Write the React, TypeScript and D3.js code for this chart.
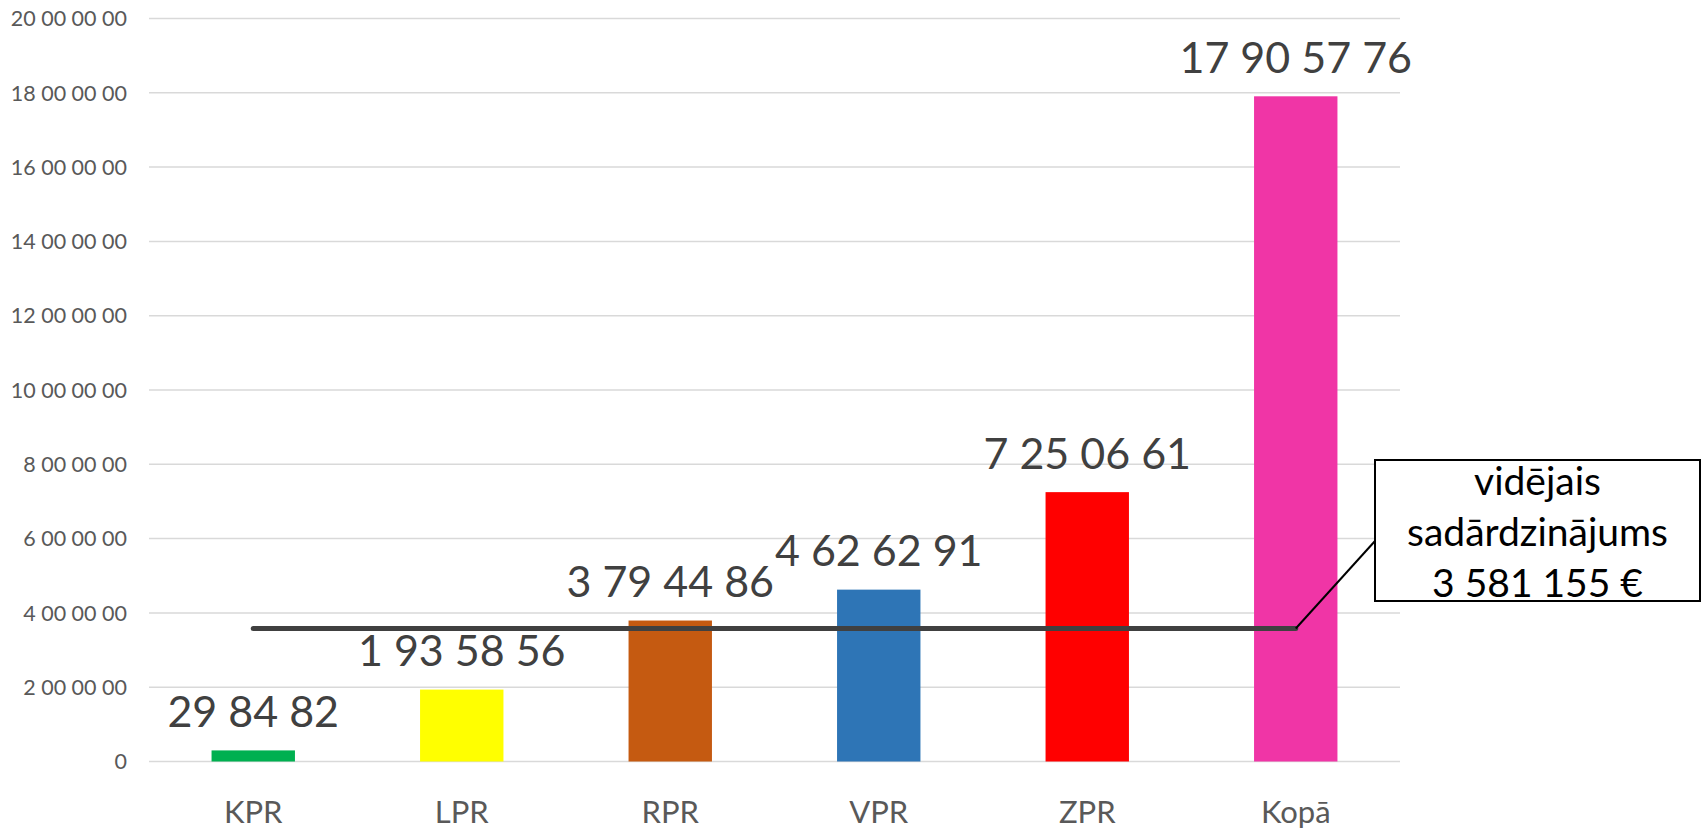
import * as d3 from 'd3';
import React, { useEffect, useRef } from 'react';

const categories = ['KPR', 'LPR', 'RPR', 'VPR', 'ZPR', 'Kopā'];
const values = [298482, 1935856, 3794486, 4626291, 7250661, 17905776];
const barColors = ['#00B050', '#FFFF00', '#C55A11', '#2E75B6', '#FF0000', '#F035A6'];
const yTicks = [0, 2000000, 4000000, 6000000, 8000000, 10000000, 12000000, 14000000, 16000000, 18000000, 20000000];
const averageValue = 3581155;
const calloutLines = ['vidējais', 'sadārdzinājums'];

// excel-ish "# ## ## ##" format: pairs of digits from the right
const pairFormat = (v: number) => {
	const s = String(Math.round(v));
	const parts: string[] = [];
	for (let i = s.length; i > 0; i -= 2) parts.unshift(s.slice(Math.max(0, i - 2), i));
	return parts.join(' ');
};
const thousandFormat = (v: number) => d3.format(',')(v).replace(/,/g, ' ');

const App = () => {
	const ref = useRef<HTMLDivElement>(null);
	const width = 1706;
	const height = 828;
	const margin = { top: 18.5, right: 306, bottom: 66.5, left: 149 };
	const font = 'Lato, "Open Sans", sans-serif';

	useEffect(() => {
		const container = ref.current;
		if (!container) return;
		container.innerHTML = '';

		const x = d3
			.scaleBand<string>()
			.domain(categories)
			.range([margin.left, width - margin.right])
			.paddingInner(0.6)
			.paddingOuter(0.3);

		const y = d3
			.scaleLinear()
			.domain([0, 20000000])
			.range([height - margin.bottom, margin.top]);

		const svg = d3
			.select(container)
			.append('svg')
			.attr('width', width)
			.attr('height', height)
			.attr('viewBox', `0 0 ${width} ${height}`)
			.style('position', 'absolute')
			.style('left', 0)
			.style('top', 0)
			.style('background', '#fff')
			.style('font-family', font);

		// gridlines
		svg.append('g')
			.selectAll('line')
			.data(yTicks)
			.join('line')
			.attr('x1', margin.left)
			.attr('x2', width - margin.right)
			.attr('y1', d => y(d))
			.attr('y2', d => y(d))
			.attr('stroke', '#d9d9d9')
			.attr('stroke-width', 1.5);

		// y axis labels
		svg.append('g')
			.selectAll('text')
			.data(yTicks)
			.join('text')
			.attr('x', margin.left - 22)
			.attr('y', d => y(d))
			.attr('dy', '0.36em')
			.attr('text-anchor', 'end')
			.attr('fill', '#595959')
			.attr('font-size', 21.5)
			.text(d => pairFormat(d));

		// bars
		svg.append('g')
			.selectAll('rect')
			.data(values)
			.join('rect')
			.attr('x', (d, i) => x(categories[i]) as number)
			.attr('y', d => y(d))
			.attr('width', x.bandwidth())
			.attr('height', d => y(0) - y(d))
			.attr('fill', (d, i) => barColors[i]);

		// data labels
		svg.append('g')
			.selectAll('text')
			.data(values)
			.join('text')
			.attr('x', (d, i) => (x(categories[i]) as number) + x.bandwidth() / 2)
			.attr('y', d => y(d) - 23.5)
			.attr('text-anchor', 'middle')
			.attr('fill', '#404040')
			.attr('font-size', 43)
			.text(d => pairFormat(d));

		// category labels
		svg.append('g')
			.selectAll('text')
			.data(categories)
			.join('text')
			.attr('x', d => (x(d) as number) + x.bandwidth() / 2)
			.attr('y', height - 5.5)
			.attr('text-anchor', 'middle')
			.attr('fill', '#595959')
			.attr('font-size', 31)
			.text(d => d);

		// average line
		const first = (x(categories[0]) as number) + x.bandwidth() / 2;
		const last = (x(categories[categories.length - 1]) as number) + x.bandwidth() / 2;
		svg.append('line')
			.attr('x1', first)
			.attr('x2', last)
			.attr('y1', y(averageValue))
			.attr('y2', y(averageValue))
			.attr('stroke', '#404040')
			.attr('stroke-width', 5)
			.attr('stroke-linecap', 'round');

		// callout
		const box = { x: 1375, y: 460, w: 325, h: 141 };
		svg.append('line')
			.attr('x1', last)
			.attr('y1', y(averageValue))
			.attr('x2', box.x)
			.attr('y2', 541)
			.attr('stroke', '#000')
			.attr('stroke-width', 2);
		svg.append('rect')
			.attr('x', box.x)
			.attr('y', box.y)
			.attr('width', box.w)
			.attr('height', box.h)
			.attr('fill', '#fff')
			.attr('stroke', '#000')
			.attr('stroke-width', 2);
		const lines = [...calloutLines, `${thousandFormat(averageValue)} €`];
		svg.append('g')
			.selectAll('text')
			.data(lines)
			.join('text')
			.attr('x', box.x + box.w / 2)
			.attr('y', (d, i) => 495 + i * 50.8)
			.attr('text-anchor', 'middle')
			.attr('fill', '#000')
			.attr('font-size', 39)
			.text(d => d);
	}, []);

	return <div ref={ref}></div>;
};

export default App;
